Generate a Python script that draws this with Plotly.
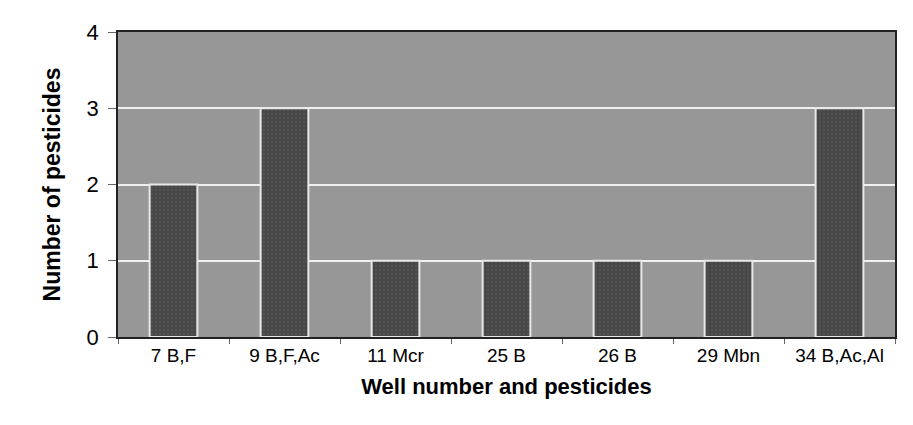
import plotly.graph_objects as go

categories = ["7 B,F", "9 B,F,Ac", "11 Mcr", "25 B", "26 B", "29 Mbn", "34 B,Ac,Al"]
values = [2, 3, 1, 1, 1, 1, 3]
y_ticks = [0, 1, 2, 3, 4]

fig = go.Figure(go.Bar(
    x=categories, y=values,
    width=0.43,
    marker=dict(color="#474747", line=dict(color="#e8e8e8", width=2),
                pattern=dict(shape=".", fgcolor="#5c5c5c", size=4, solidity=0.3)),
))

fig.update_layout(
    width=905, height=417,
    margin=dict(l=110, r=18, t=24, b=88),
    paper_bgcolor="white",
    plot_bgcolor="#979797",
    showlegend=False,
    font=dict(family="Liberation Sans, Arial, sans-serif", color="black"),
    xaxis=dict(
        automargin=False,
        tickfont=dict(size=19),
        title=dict(text="<b>Well number and pesticides</b>", font=dict(size=22), standoff=14),
        showline=True, linecolor="#222", linewidth=1.5, mirror=True,
        showgrid=False, ticks="outside", ticklen=5, tickcolor="#666",
        tickson="boundaries",
    ),
    yaxis=dict(
        automargin=False,
        range=[0, 4], tickvals=y_ticks,
        tickfont=dict(size=22),
        ticklabelstandoff=5,
        title=dict(text="<b>Number of pesticides</b>", font=dict(size=23), standoff=20),
        showline=True, linecolor="#222", linewidth=1.5, mirror=True,
        showgrid=True, gridcolor="#f0f0f0", gridwidth=1.5,
        ticks="outside", ticklen=8, tickcolor="#666",
        zeroline=False,
    ),
)

fig.write_html("out.html")
